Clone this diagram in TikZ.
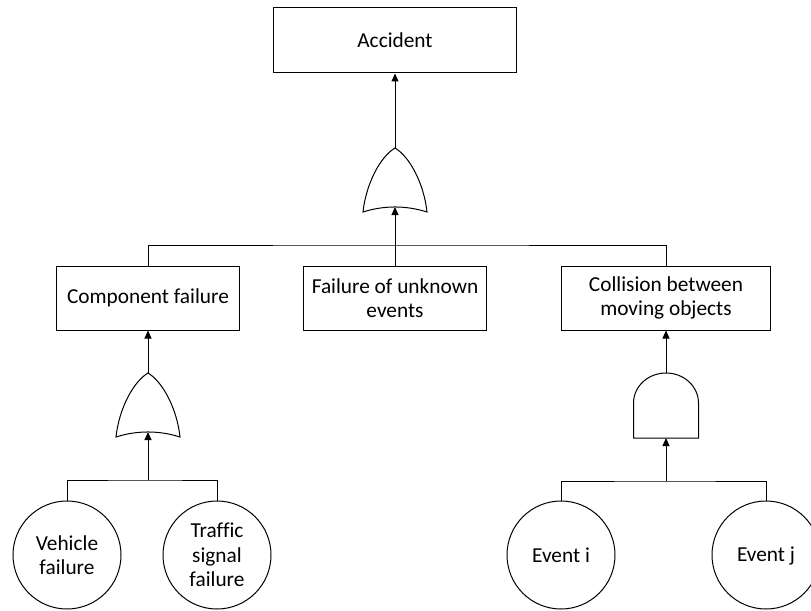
\documentclass[tikz,border=0pt]{standalone}
\usepackage{fontspec}
\setmainfont{Carlito}[Ligatures=NoCommon]
\usetikzlibrary{arrows.meta}
\begin{document}
\begin{tikzpicture}[x=1bp,y=-1bp,
  lbl/.style={font=\fontsize{21.4}{24.6}\selectfont, align=center, inner sep=0pt},
  box/.style={lbl, draw, line width=1bp, minimum width=#1, minimum height=64bp},
  evt/.style={lbl, draw, circle, line width=1bp, minimum size=108bp},
  wire/.style={line width=1bp},
  arr/.style={wire, -{Triangle[length=8bp,width=7bp]}},
  pics/orgate/.style={code={
    \draw[wire] (0,0) .. controls (-15,9) and (-29,36) .. (-32,64)
      .. controls (-11,57.3) and (11,57.3) .. (32,64)
      .. controls (29,36) and (15,9) .. (0,0) -- cycle;
    \coordinate (-top) at (0,0);
    \coordinate (-bot) at (0,59);
  }},
  pics/andgate/.style={code={
    \draw[wire] (-32.5,65) -- (-32.5,30)
      arc[start angle=180, end angle=0, x radius=32.5bp, y radius=30bp]
      -- (32.5,65) -- cycle;
    \coordinate (-top) at (0,0);
    \coordinate (-bot) at (0,65);
  }}]
\useasboundingbox (0,0) rectangle (811,611);
\clip (0,0) rectangle (811,611);

% boxes
\node[box=243bp, minimum height=65bp] (acc) at (395,40.5) {Accident};
\node[box=183bp] (comp) at (148,298) {Component failure};
\node[box=183bp] (mid) at (395,298) {Failure of unknown\\events};
\node[box=209bp] (coll) at (666,298) {Collision between\\moving objects};

% basic events
\node[evt] (veh) at (67,555) {Vehicle\\failure};
\node[evt] (traf) at (217,555) {Traffic\\signal\\failure};
\node[evt] (evi) at (561,555) {Event i};
\node[evt] (evj) at (766,555) {Event \smash{j}};

% gates
\pic (g1) at (395,148) {orgate};
\pic (g2) at (148,373) {orgate};
\pic (g3) at (666,373) {andgate};

% junctions
\coordinate (j1) at (395,245);
\coordinate (j2) at (148,480);
\coordinate (j3) at (666,481);

% connectors
\draw[arr] (g1-top) -- (acc.south);
\draw[wire] (comp.north) |- (j1) -| (coll.north);
\draw[arr] (mid.north) -- (g1-bot);

\draw[arr] (g2-top) -- (comp.south);
\draw[wire] (veh.north) |- (j2) -| (traf.north);
\draw[arr] (j2) -- (g2-bot);

\draw[arr] (g3-top) -- (coll.south);
\draw[wire] (evi.north) |- (j3) -| (evj.north);
\draw[arr] (j3) -- (g3-bot);
\end{tikzpicture}
\end{document}
